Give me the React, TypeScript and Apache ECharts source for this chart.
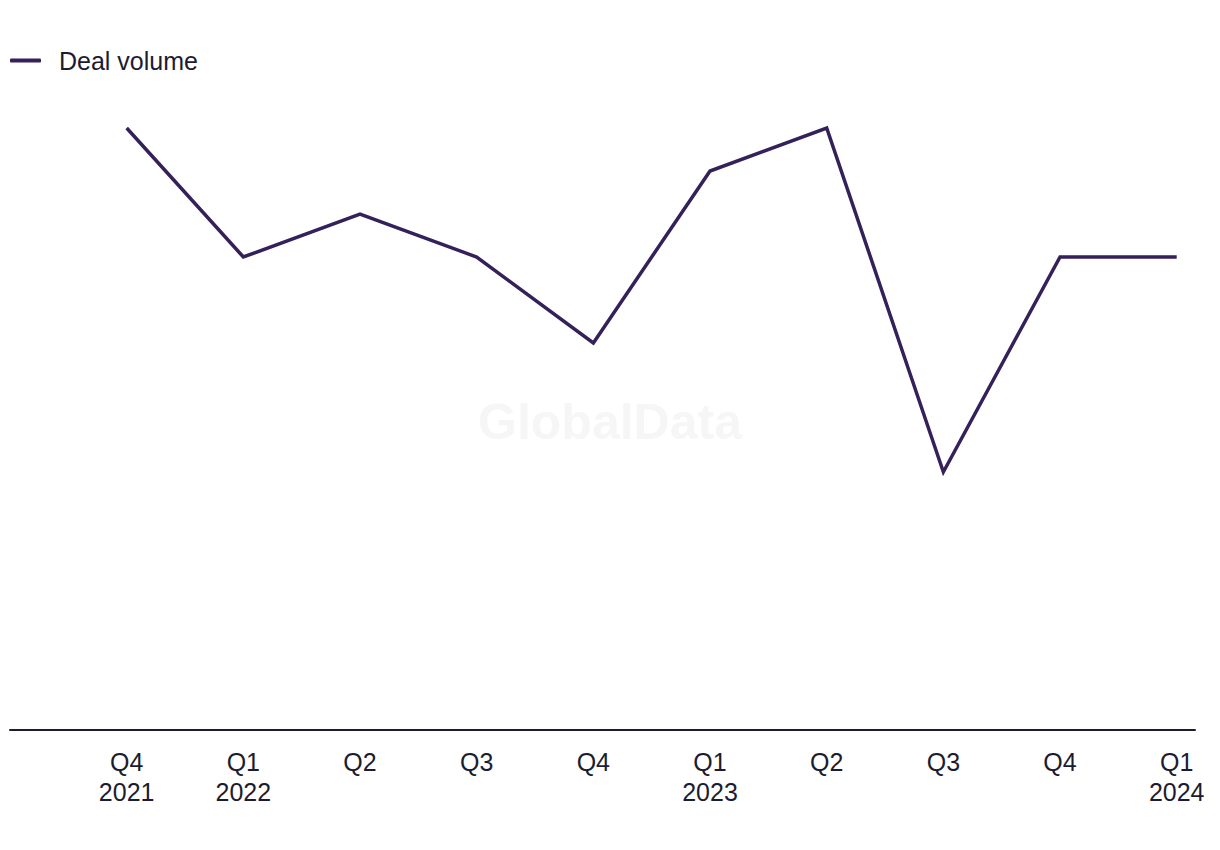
import React, { useEffect, useRef } from "react";
import * as echarts from "echarts";

const quarterLabels = ["Q4\n2021", "Q1\n2022", "Q2", "Q3", "Q4", "Q1\n2023", "Q2", "Q3", "Q4", "Q1\n2024"];
const dealVolume = [14, 11, 12, 11, 9, 13, 14, 6, 11, 11];
const seriesName = "Deal volume";

export default function App() {
  const ref = useRef<HTMLDivElement>(null);
  useEffect(() => {
    if (!ref.current) return;
    const chart = echarts.init(ref.current, undefined, { renderer: "svg" });
    const font = "'Liberation Sans', Arial, sans-serif";
    chart.setOption({
      animation: false,
      textStyle: { fontFamily: font },
      legend: {
        left: 10,
        top: 48,
        padding: 0,
        icon: "roundRect",
        itemWidth: 31,
        itemHeight: 4,
        textStyle: { fontSize: 25, color: "#1c1c30", fontFamily: font, padding: [0, 0, 0, 13] },
        data: [seriesName],
      },
      graphic: [
        {
          type: "text",
          left: "center",
          top: 397,
          z: 0,
          style: { text: "GlobalData", fontSize: 50, fontWeight: "bold", fill: "#f6f6f6", fontFamily: font },
        },
      ],
      grid: { left: 10, right: 25, top: 128, bottom: 120, containLabel: false },
      xAxis: {
        type: "value",
        min: -1,
        max: -1 + 1185 / 116.67,
        interval: 1,
        splitLine: { show: false },
        axisTick: { show: false },
        axisLine: { show: true, onZero: false, lineStyle: { color: "#1c1c30", width: 2 } },
        axisLabel: {
          showMinLabel: true,
          showMaxLabel: false,
          color: "#1c1c30",
          fontSize: 25,
          lineHeight: 30,
          margin: 17,
          fontFamily: font,
          formatter: (v: number) => {
            const i = Math.round(v);
            if (Math.abs(v - i) > 1e-6 || i < 0 || i >= quarterLabels.length) return "";
            return quarterLabels[i];
          },
        },
      },
      yAxis: {
        type: "value",
        min: 0,
        max: 14,
        show: false,
        splitLine: { show: false },
      },
      series: [
        {
          name: seriesName,
          type: "line",
          data: dealVolume.map((v, i) => [i, v]),
          showSymbol: false,
          symbol: "none",
          clip: false,
          itemStyle: { color: "#35215a" },
          lineStyle: { color: "#35215a", width: 3.5, join: "miter" },
        },
      ],
    });
    return () => chart.dispose();
  }, []);
  return <div ref={ref} style={{ position: "absolute", left: 0, top: 0, width: 1220, height: 850 }} />;
}
